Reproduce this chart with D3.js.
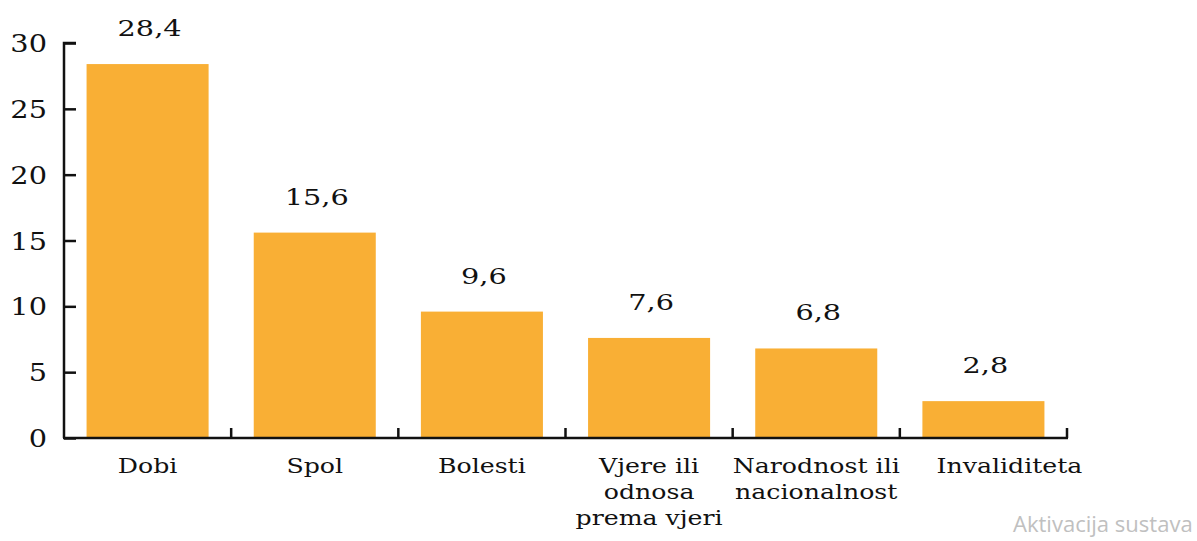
<!DOCTYPE html>
<html>
<head>
<meta charset="utf-8">
<script src="https://cdn.jsdelivr.net/npm/d3@7"></script>
<style>
	body { margin: 0; background: #fff; }
	svg { display: block; }
	.lbl { font-family: "DejaVu Serif", serif; fill: #111; }
</style>
</head>
<body>
<svg width="1197" height="541"></svg>
<script>
const categories = ["Dobi", "Spol", "Bolesti", "Vjere ili odnosa prema vjeri", "Narodnost ili nacionalnost", "Invaliditeta"];
const category_lines = [["Dobi"], ["Spol"], ["Bolesti"], ["Vjere ili", "odnosa", "prema vjeri"], ["Narodnost ili", "nacionalnost"], ["Invaliditeta"]];
const values = [28.4, 15.6, 9.6, 7.6, 6.8, 2.8];
const value_labels = ["28,4", "15,6", "9,6", "7,6", "6,8", "2,8"];
const y_ticks = [0, 5, 10, 15, 20, 25, 30];

const bar_color = "#f9af35";
const stretch = 1.2;	// the source picture is widened a little
const svg = d3.select("svg");

// plot area
const plot_left = 64, plot_right = 1067, plot_top = 43, plot_bottom = 438;

const x = d3.scaleBand()
	.domain(categories)
	.range([plot_left, plot_right])
	.paddingInner(0.27)
	.paddingOuter(0.135);

const band = d3.scaleBand().domain(categories).range([plot_left, plot_right]);

const y = d3.scaleLinear()
	.domain([0, 30])
	.range([plot_bottom, plot_top]);

function place(px, py, s) {
	return "translate(" + px + "," + py + ") scale(" + s + ",1)";
}

// bars
svg.selectAll("rect.bar")
	.data(values)
	.enter()
	.append("rect")
	.attr("class", "bar")
	.attr("x", (d, i) => x(categories[i]))
	.attr("y", d => y(d))
	.attr("width", x.bandwidth())
	.attr("height", d => y(0) - y(d))
	.attr("fill", bar_color);

// value labels
svg.selectAll("text.val")
	.data(values)
	.enter()
	.append("text")
	.attr("class", "lbl val")
	.attr("transform", (d, i) => place(x(categories[i]) + x.bandwidth() / 2 + 2, y(d) - 28, 1.25))
	.attr("text-anchor", "middle")
	.attr("font-size", 23)
	.text((d, i) => value_labels[i]);

// y axis (ticks pointing inwards)
const y_axis = d3.axisRight(y).tickValues(y_ticks).tickSize(12).tickFormat("");
svg.append("g")
	.attr("transform", "translate(" + plot_left + ",0)")
	.call(y_axis)
	.call(g => g.select(".domain").attr("d", "M12," + plot_top + "H0V" + plot_bottom))
	.call(g => g.selectAll("line, path").attr("stroke", "#111").attr("stroke-width", 2.5));

svg.selectAll("text.ytick")
	.data(y_ticks)
	.enter()
	.append("text")
	.attr("class", "lbl ytick")
	.attr("transform", d => place(47, y(d) + 9, stretch))
	.attr("text-anchor", "end")
	.attr("font-size", 24)
	.text(d => d);

// x axis with upward ticks at the band edges
const edges = categories.map(c => band(c) + band.bandwidth());
const xg = svg.append("g");
xg.append("line")
	.attr("x1", plot_left - 1).attr("x2", plot_right + 1)
	.attr("y1", plot_bottom).attr("y2", plot_bottom)
	.attr("stroke", "#111").attr("stroke-width", 2.5);
xg.selectAll("line.xt")
	.data(edges)
	.enter()
	.append("line")
	.attr("class", "xt")
	.attr("x1", d => d).attr("x2", d => d)
	.attr("y1", plot_bottom).attr("y2", plot_bottom - 10)
	.attr("stroke", "#111").attr("stroke-width", 2.5);

// category labels
category_lines.forEach((lines, i) => {
	const cx = band(categories[i]) + band.bandwidth() / 2 + (i == 5 ? 26 : 0);
	lines.forEach((line, k) => {
		svg.append("text")
			.attr("class", "lbl")
			.attr("text-anchor", "middle")
			.attr("font-size", 21)
			.attr("transform", place(cx, 473 + k * 26, stretch))
			.text(line);
	});
});

// watermark
svg.append("text")
	.attr("x", 1013)
	.attr("y", 532)
	.attr("font-family", "Open Sans, sans-serif")
	.attr("font-size", 21)
	.attr("fill", "#c0c0c0")
	.attr("transform", "translate(1013,0) scale(1.05,1) translate(-1013,0)")
	.text("Aktivacija sustava");
</script>
</body>
</html>
